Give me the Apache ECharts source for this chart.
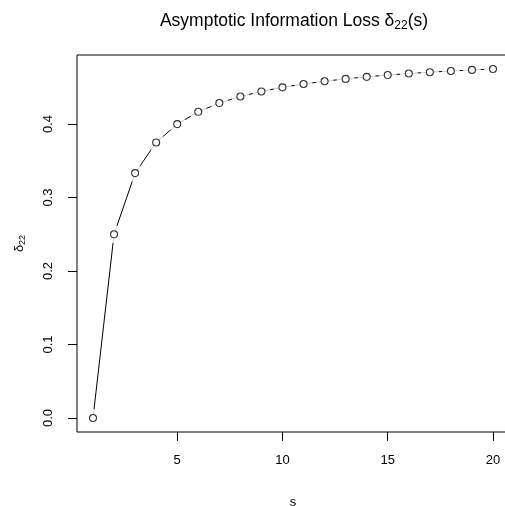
<!DOCTYPE html>
<html>
<head>
<meta charset="utf-8">
<script src="https://cdn.jsdelivr.net/npm/echarts@6/dist/echarts.min.js"></script>
<style>html,body{margin:0;padding:0;background:#fff;}#c{width:505px;height:506px;}</style>
</head>
<body>
<div id="c"></div>
<script>
var sValues = [1,2,3,4,5,6,7,8,9,10,11,12,13,14,15,16,17,18,19,20];
var deltaValues = [0, 0.25, 0.3333, 0.375, 0.4, 0.4167, 0.4286, 0.4375, 0.4444, 0.45,
                   0.4545, 0.4583, 0.4615, 0.4643, 0.4667, 0.4688, 0.4706, 0.4722, 0.4737, 0.475];
var xTicks = [5, 10, 15, 20];
var yTicks = [0, 0.1, 0.2, 0.3, 0.4];

var pts = sValues.map(function (s, i) { return [s, deltaValues[i]]; });
var FONT = 'Liberation Sans, Arial, sans-serif';

var chart = echarts.init(document.getElementById('c'), null, {renderer: 'canvas'});
chart.setOption({
  animation: false,
  backgroundColor: '#fff',
  title: {
    text: 'Asymptotic Information Loss δ{sub|22}(s)',
    left: 289,
    top: 6,
    textAlign: 'center',
    textStyle: {
      fontFamily: FONT, fontSize: 17.5, fontWeight: 'normal', color: '#000',
      rich: {
        sub: {fontFamily: FONT, fontSize: 12, color: '#000', padding: [9, 0, 0, 0]}
      }
    }
  },
  grid: {left: 77, top: 55, right: -4, bottom: 74, show: true, borderColor: '#000', borderWidth: 1, outerBoundsMode: 'none'},
  xAxis: {
    type: 'value', min: 0.24, max: 20.76,
    name: 's', nameLocation: 'middle', nameGap: 64,
    nameTextStyle: {fontFamily: FONT, fontSize: 13, color: '#000'},
    axisLine: {show: false, onZero: false},
    axisTick: {show: true, length: 9, inside: false, lineStyle: {color: '#000', width: 1}, customValues: xTicks},
    axisLabel: {fontFamily: FONT, fontSize: 13, color: '#000', margin: 22, customValues: xTicks},
    splitLine: {show: false}
  },
  yAxis: {
    type: 'value', min: -0.019, max: 0.494,
    name: 'δ{sub|22}', nameLocation: 'middle', nameGap: 50, nameRotate: 90,
    nameTextStyle: {fontFamily: FONT, fontSize: 13, color: '#000',
      rich: {sub: {fontFamily: FONT, fontSize: 9, color: '#000', padding: [7, 0, 0, 0]}}},
    axisLine: {show: false, onZero: false},
    axisTick: {show: true, length: 9, inside: false, lineStyle: {color: '#000', width: 1}, customValues: yTicks},
    axisLabel: {fontFamily: FONT, fontSize: 13, color: '#000', margin: 22, rotate: 90,
      customValues: yTicks, formatter: function (v) { return v.toFixed(1); }},
    splitLine: {show: false}
  },
  series: [
    {type: 'line', data: pts, showSymbol: false, symbol: 'none', lineStyle: {color: '#000', width: 1}, z: 1, silent: true},
    {type: 'scatter', data: pts, symbol: 'circle', symbolSize: 18, itemStyle: {color: '#fff'}, z: 2, silent: true},
    {type: 'scatter', data: pts, symbol: 'circle', symbolSize: 7, itemStyle: {color: '#fff', borderColor: '#000', borderWidth: 1.1}, z: 3, silent: true}
  ]
});
</script>
</body>
</html>
